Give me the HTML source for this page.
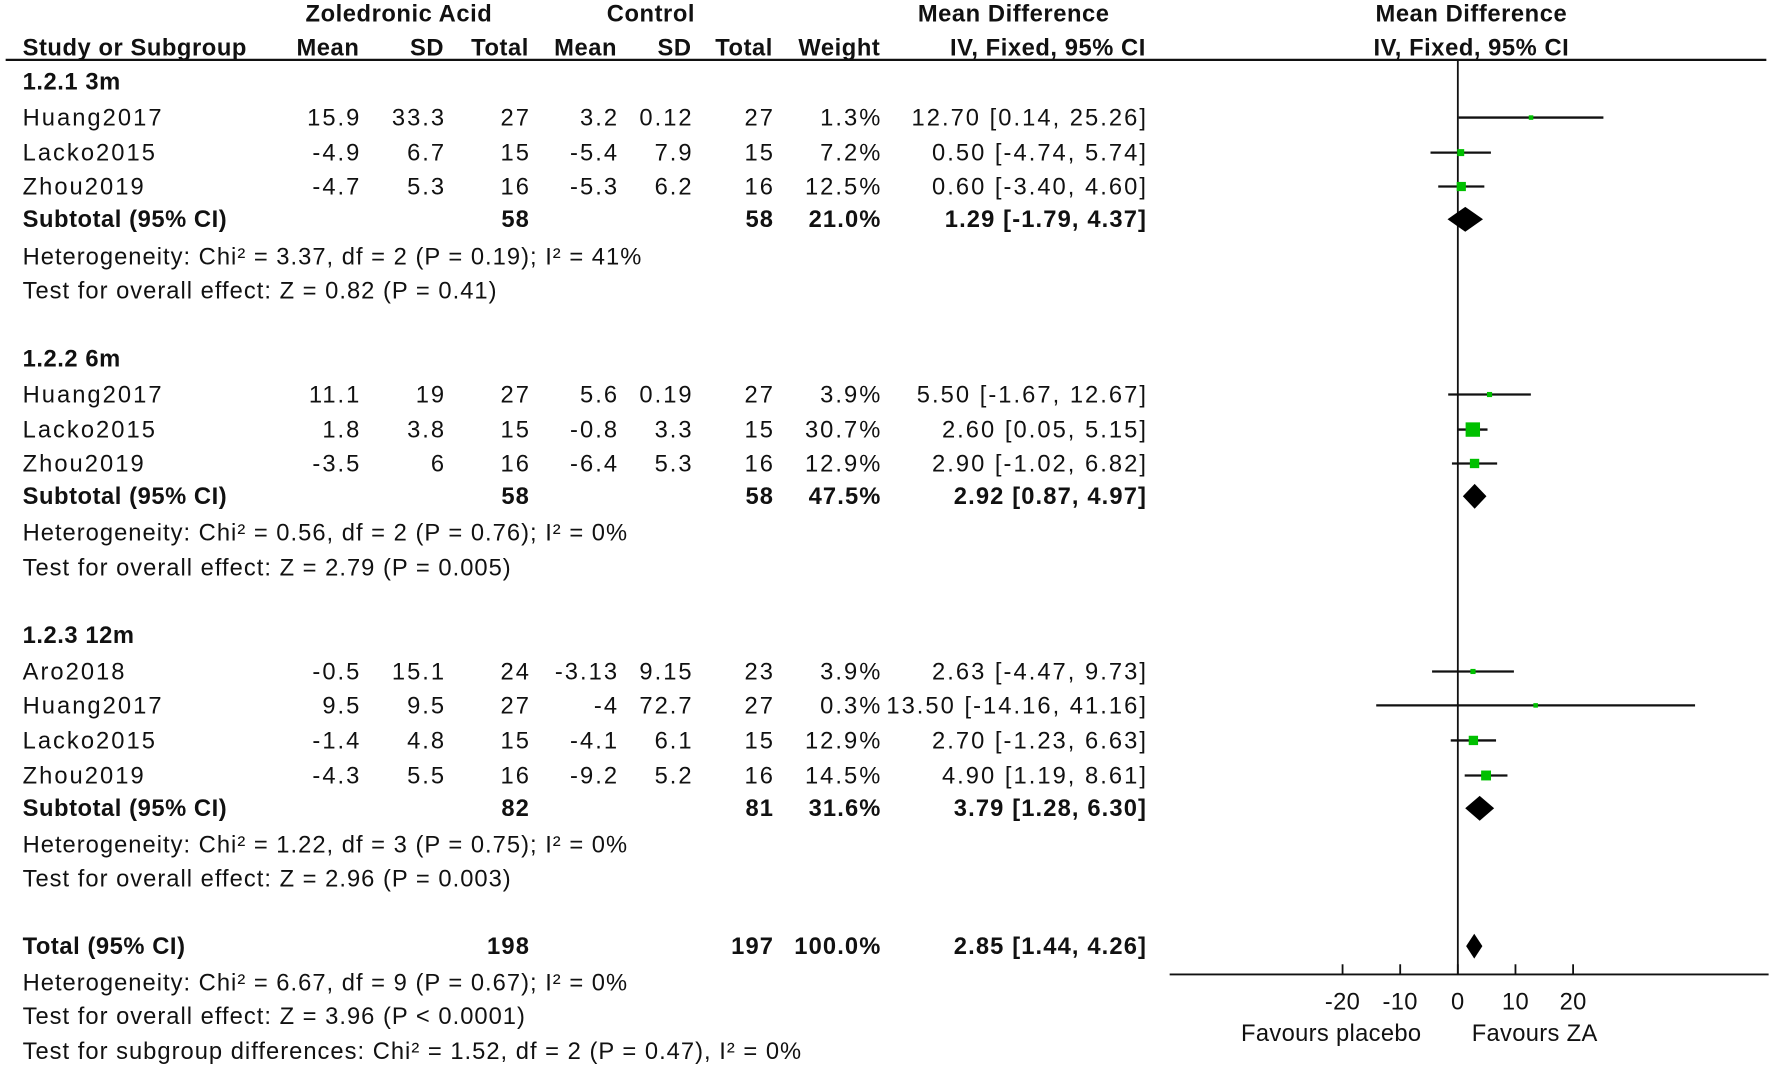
<!DOCTYPE html>
<html><head><meta charset="utf-8"><style>
html,body{margin:0;padding:0;background:#fff;}
svg{display:block;}
text{font-family:"Liberation Sans",Arial,sans-serif;font-size:21px;fill:#111;}
.b{font-weight:bold;letter-spacing:0.5px;}
.n{letter-spacing:1.8px;}
.bn{font-weight:bold;letter-spacing:1px;}
.note{letter-spacing:0.9px;}
.ax{letter-spacing:0.3px;}
</style></head><body>
<svg id="chart" width="1772" height="1066" viewBox="0 0 1568 943" preserveAspectRatio="none" xmlns="http://www.w3.org/2000/svg">
<g>
<text class="b" x="353" y="19" text-anchor="middle">Zoledronic Acid</text>
<text class="b" x="576" y="19" text-anchor="middle">Control</text>
<text class="b" x="897" y="19" text-anchor="middle">Mean Difference</text>
<text class="b" x="1302" y="19" text-anchor="middle">Mean Difference</text>
<text class="b" x="20" y="49">Study or Subgroup</text>
<text class="b" x="318" y="49" text-anchor="end">Mean</text>
<text class="b" x="393" y="49" text-anchor="end">SD</text>
<text class="b" x="468" y="49" text-anchor="end">Total</text>
<text class="b" x="546" y="49" text-anchor="end">Mean</text>
<text class="b" x="612" y="49" text-anchor="end">SD</text>
<text class="b" x="684" y="49" text-anchor="end">Total</text>
<text class="b" x="779" y="49" text-anchor="end">Weight</text>
<text class="b" x="1014" y="49" text-anchor="end">IV, Fixed, 95% CI</text>
<text class="b" x="1302" y="49" text-anchor="middle">IV, Fixed, 95% CI</text>
</g>
<line x1="5" y1="53" x2="1563" y2="53" stroke="#111" stroke-width="2"/>
<g id="table"></g>
<g id="plot"></g>
</svg>
<script>
const rowY = [79,111,142,172,201,234,264,324,356,387,417,446,478,509,569,601,631,662,693,722,754,784,844,876,906,937];
const rowType = ['grp','st','st','st','sub','note','note','grp','st','st','st','sub','note','note','grp','st','st','st','st','sub','note','note','sub','note','note','note'];
const rowLabel = ['1.2.1 3m','Huang2017','Lacko2015','Zhou2019','Subtotal (95% CI)','Heterogeneity: Chi² = 3.37, df = 2 (P = 0.19); I² = 41%','Test for overall effect: Z = 0.82 (P = 0.41)',
'1.2.2 6m','Huang2017','Lacko2015','Zhou2019','Subtotal (95% CI)','Heterogeneity: Chi² = 0.56, df = 2 (P = 0.76); I² = 0%','Test for overall effect: Z = 2.79 (P = 0.005)',
'1.2.3 12m','Aro2018','Huang2017','Lacko2015','Zhou2019','Subtotal (95% CI)','Heterogeneity: Chi² = 1.22, df = 3 (P = 0.75); I² = 0%','Test for overall effect: Z = 2.96 (P = 0.003)',
'Total (95% CI)','Heterogeneity: Chi² = 6.67, df = 9 (P = 0.67); I² = 0%','Test for overall effect: Z = 3.96 (P < 0.0001)','Test for subgroup differences: Chi² = 1.52, df = 2 (P = 0.47), I² = 0%'];
const zaMean = ['','15.9','-4.9','-4.7','','','','','11.1','1.8','-3.5','','','','','-0.5','9.5','-1.4','-4.3','','','','','','',''];
const zaSD   = ['','33.3','6.7','5.3','','','','','19','3.8','6','','','','','15.1','9.5','4.8','5.5','','','','','','',''];
const zaN    = ['','27','15','16','58','','','','27','15','16','58','','','','24','27','15','16','82','','','198','','',''];
const cMean  = ['','3.2','-5.4','-5.3','','','','','5.6','-0.8','-6.4','','','','','-3.13','-4','-4.1','-9.2','','','','','','',''];
const cSD    = ['','0.12','7.9','6.2','','','','','0.19','3.3','5.3','','','','','9.15','72.7','6.1','5.2','','','','','','',''];
const cN     = ['','27','15','16','58','','','','27','15','16','58','','','','23','27','15','16','81','','','197','','',''];
const wLabel = ['','1.3%','7.2%','12.5%','21.0%','','','','3.9%','30.7%','12.9%','47.5%','','','','3.9%','0.3%','12.9%','14.5%','31.6%','','','100.0%','','',''];
const md = [null,12.70,0.50,0.60,1.29,null,null,null,5.50,2.60,2.90,2.92,null,null,null,2.63,13.50,2.70,4.90,3.79,null,null,2.85,null,null,null];
const lo = [null,0.14,-4.74,-3.40,-1.79,null,null,null,-1.67,0.05,-1.02,0.87,null,null,null,-4.47,-14.16,-1.23,1.19,1.28,null,null,1.44,null,null,null];
const hi = [null,25.26,5.74,4.60,4.37,null,null,null,12.67,5.15,6.82,4.97,null,null,null,9.73,41.16,6.63,8.61,6.30,null,null,4.26,null,null,null];
const wt = [null,1.3,7.2,12.5,21.0,null,null,null,3.9,30.7,12.9,47.5,null,null,null,3.9,0.3,12.9,14.5,31.6,null,null,100.0,null,null,null];
const ticks = [-20,-10,0,10,20];

const NS='http://www.w3.org/2000/svg';
const x0=1290, pxPerUnit=5.1;
function xs(v){return x0+v*pxPerUnit;}
function mk(tag,attrs,parent){const e=document.createElementNS(NS,tag);for(const k in attrs)e.setAttribute(k,attrs[k]);parent.appendChild(e);return e;}
const table=document.getElementById('table');
const plot=document.getElementById('plot');
function txt(s,x,y,anchor,cls,name){
  if(s==='')return;
  const t=mk('text',{x:x,y:y,'text-anchor':anchor},table);
  if(cls)t.setAttribute('class',cls);
  
  
  t.textContent=s;
}
for(let i=0;i<rowY.length;i++){
  const y=rowY[i], ty=rowType[i];
  const bold=(ty==='grp'||ty==='sub');
  const lcls = bold ? 'b' : (ty==='note' ? 'note' : 'n');
  txt(rowLabel[i],20,y,'start',lcls,ty==='note'?'stat-note':'row-label');
  const nc = bold ? 'bn' : 'n';
  const dx = bold ? 1 : 1.8;
  txt(zaMean[i],318+dx,y,'end',nc,'za-mean');
  txt(zaSD[i],393+dx,y,'end',nc,'za-sd');
  txt(zaN[i],468+dx,y,'end',nc,'za-total');
  txt(cMean[i],546+dx,y,'end',nc,'control-mean');
  txt(cSD[i],612+dx,y,'end',nc,'control-sd');
  txt(cN[i],684+dx,y,'end',nc,'control-total');
  txt(wLabel[i],779+dx,y,'end',nc,'weight');
  if(md[i]!==null){
    txt(md[i].toFixed(2)+' ['+lo[i].toFixed(2)+', '+hi[i].toFixed(2)+']',1014+dx,y,'end',nc,'mean-difference-ci');
  }
}
const zl=mk('line',{x1:x0,y1:53,x2:x0,y2:862,stroke:'#111','stroke-width':1.6},plot);


const ax=mk('line',{x1:1035,y1:862,x2:1565,y2:862,stroke:'#111','stroke-width':1.6},plot);


for(const t of ticks){
  const tk=mk('line',{x1:xs(t),y1:853,x2:xs(t),y2:862,stroke:'#111','stroke-width':1.6},plot);
  
  
  const tl=mk('text',{x:xs(t),y:893,'text-anchor':'middle',class:'ax'},plot);
  
  
  tl.textContent=String(t);
}
const f1=mk('text',{x:1178,y:921,'text-anchor':'middle',class:'ax'},plot);


f1.textContent='Favours placebo';
const f2=mk('text',{x:1358,y:921,'text-anchor':'middle',class:'ax'},plot);


f2.textContent='Favours ZA';
for(let i=0;i<rowY.length;i++){
  if(md[i]===null)continue;
  const y=rowY[i]-7;
  if(rowType[i]==='st'){
    const l=mk('line',{x1:xs(lo[i]),y1:y,x2:xs(hi[i]),y2:y,stroke:'#111','stroke-width':2},plot);
    
    
    const s=Math.max(4,Math.sqrt(wt[i])*2.3);
    const r=mk('rect',{x:xs(md[i])-s/2,y:y-s/2,width:s,height:s,fill:'#00c000'},plot);
    
    
  } else {
    const h=11;
    const p=mk('polygon',{points:`${xs(lo[i])},${y} ${xs(md[i])},${y-h} ${xs(hi[i])},${y} ${xs(md[i])},${y+h}`,fill:'#000'},plot);
    
    
  }
}
</script>
</body></html>
